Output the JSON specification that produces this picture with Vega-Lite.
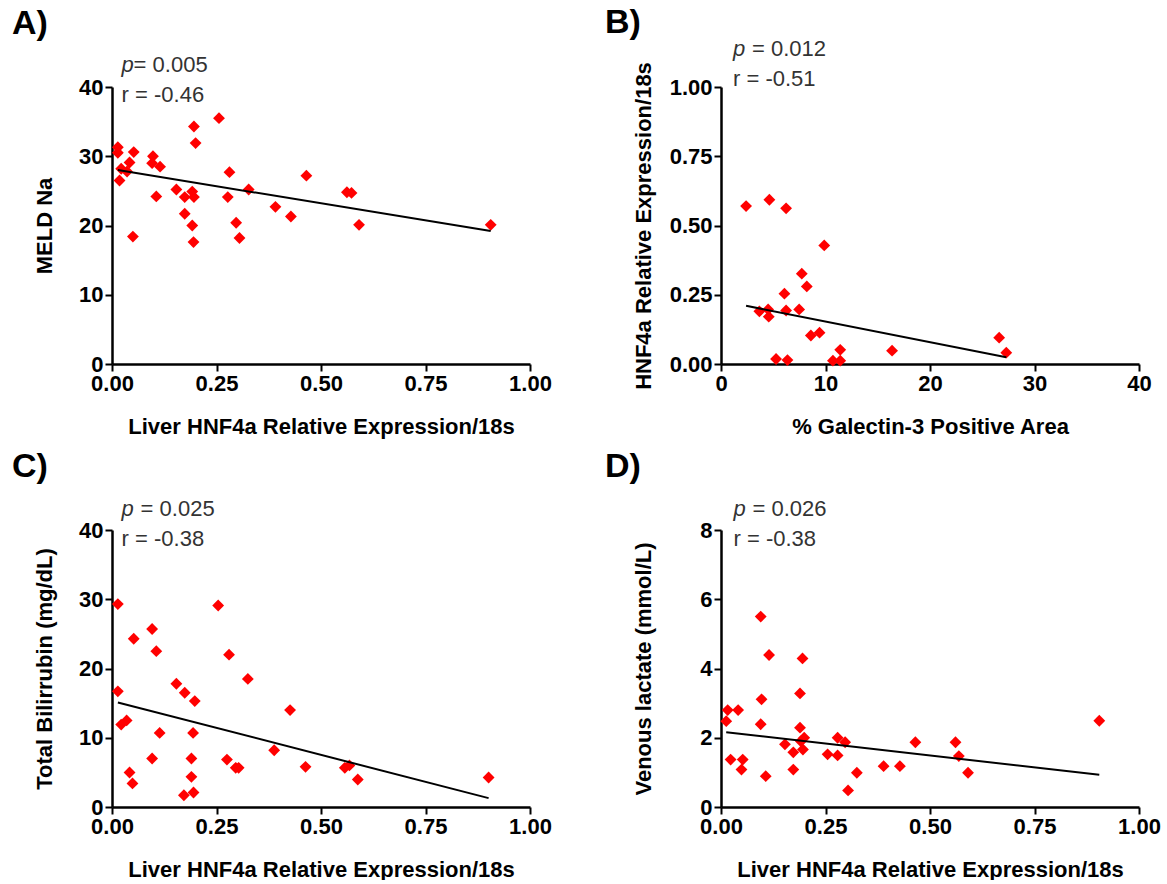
{
  "$schema": "https://vega.github.io/schema/vega-lite/v6.json",
  "background": "white",
  "padding": {"left": 12, "top": 5, "right": 5, "bottom": 0},
  "columns": 2,
  "spacing": {"row": 12, "column": 53},
  "config": {
    "view": {"stroke": null},
    "font": "Liberation Sans",
    "axis": {
      "domainColor": "black", "domainWidth": 2.5, "tickColor": "black", "tickWidth": 2, "tickSize": 7,
      "labelFont": "Liberation Sans", "labelFontWeight": "bold", "labelFontSize": 22, "labelColor": "black",
      "titleFont": "Liberation Sans", "titleFontWeight": "bold", "titleFontSize": 22, "titleColor": "black",
      "grid": false, "labelPadding": 2, "labelOverlap": false, "labelFlush": false
    },
    "axisX": {"titlePadding": 22},
    "text": {"clip": false, "fontSize": 22, "color": "#333333", "align": "left", "baseline": "middle"},
    "title": {"font": "Liberation Sans", "fontSize": 34, "fontWeight": "bold", "color": "black", "anchor": "start", "frame": "group"}
  },
  "concat": [
    {
      "width": 418, "height": 277,
      "title": {"text": "A)", "dx": -100, "offset": 13},
      "data": {"values": [
        {"x":0.014,"y":31.3},{"x":0.014,"y":30.5},{"x":0.052,"y":30.6},{"x":0.042,"y":29.1},{"x":0.022,"y":28.2},{"x":0.036,"y":27.8},{"x":0.018,"y":26.5},{"x":0.050,"y":18.4},{"x":0.098,"y":30.0},{"x":0.096,"y":29.0},{"x":0.115,"y":28.5},{"x":0.106,"y":24.2},{"x":0.196,"y":34.3},{"x":0.200,"y":31.9},{"x":0.256,"y":35.5},{"x":0.154,"y":25.2},{"x":0.174,"y":24.1},{"x":0.192,"y":24.9},{"x":0.196,"y":24.1},{"x":0.174,"y":21.7},{"x":0.192,"y":20.0},{"x":0.195,"y":17.6},{"x":0.281,"y":27.7},{"x":0.277,"y":24.1},{"x":0.327,"y":25.2},{"x":0.297,"y":20.4},{"x":0.305,"y":18.2},{"x":0.391,"y":22.7},{"x":0.428,"y":21.3},{"x":0.465,"y":27.2},{"x":0.562,"y":24.8},{"x":0.573,"y":24.7},{"x":0.591,"y":20.1},{"x":0.906,"y":20.1}
      ]},
      "layer": [
        {"mark": {"type": "point", "shape": "diamond", "filled": true, "color": "#ff0000", "opacity": 1, "size": 140},
         "encoding": {
           "x": {"field": "x", "type": "quantitative", "scale": {"domain": [0, 1], "nice": false}, "axis": {"title": "Liver HNF4a Relative Expression/18s", "values": [0, 0.25, 0.5, 0.75, 1], "format": ".2f"}},
           "y": {"field": "y", "type": "quantitative", "scale": {"domain": [0, 40], "nice": false}, "axis": {"title": "MELD Na", "values": [0, 10, 20, 30, 40], "format": "d", "titlePadding": 22}}
         }},
        {"data": {"values": [{"x": 0.014, "y": 28.0}, {"x": 0.906, "y": 19.2}]}, "mark": {"type": "line", "color": "black", "strokeWidth": 2},
         "encoding": {"x": {"field": "x", "type": "quantitative"}, "y": {"field": "y", "type": "quantitative"}}},
        {"data": {"values": [{"tx": 0.023, "ty": 43.2, "label": "p"}]},
         "mark": {"type": "text", "fontStyle": "italic"},
         "encoding": {"x": {"field": "tx", "type": "quantitative"}, "y": {"field": "ty", "type": "quantitative"}, "text": {"field": "label"}}},
        {"data": {"values": [{"tx": 0.023, "ty": 43.2, "label": "= 0.005"}]},
         "mark": {"type": "text", "dx": 12},
         "encoding": {"x": {"field": "tx", "type": "quantitative"}, "y": {"field": "ty", "type": "quantitative"}, "text": {"field": "label"}}},
        {"data": {"values": [{"tx": 0.023, "ty": 38.8, "label": "r = -0.46"}]},
         "mark": {"type": "text"},
         "encoding": {"x": {"field": "tx", "type": "quantitative"}, "y": {"field": "ty", "type": "quantitative"}, "text": {"field": "label"}}}
      ]
    },
    {
      "width": 418, "height": 277,
      "title": {"text": "B)", "dx": -116, "offset": -2},
      "data": {"values": [
        {"x":2.40,"y":0.570},{"x":4.63,"y":0.593},{"x":6.23,"y":0.562},{"x":9.88,"y":0.428},{"x":7.73,"y":0.326},{"x":8.21,"y":0.280},{"x":6.07,"y":0.254},{"x":3.67,"y":0.190},{"x":4.51,"y":0.197},{"x":4.57,"y":0.171},{"x":6.23,"y":0.193},{"x":7.48,"y":0.197},{"x":8.60,"y":0.103},{"x":9.43,"y":0.113},{"x":5.27,"y":0.018},{"x":6.36,"y":0.014},{"x":10.71,"y":0.012},{"x":11.41,"y":0.012},{"x":11.41,"y":0.051},{"x":16.37,"y":0.048},{"x":26.62,"y":0.095},{"x":27.30,"y":0.041}
      ]},
      "layer": [
        {"mark": {"type": "point", "shape": "diamond", "filled": true, "color": "#ff0000", "opacity": 1, "size": 140},
         "encoding": {
           "x": {"field": "x", "type": "quantitative", "scale": {"domain": [0, 40], "nice": false}, "axis": {"title": "% Galectin-3 Positive Area", "values": [0, 10, 20, 30, 40], "format": "d"}},
           "y": {"field": "y", "type": "quantitative", "scale": {"domain": [0, 1], "nice": false}, "axis": {"title": "HNF4a Relative Expression/18s", "values": [0, 0.25, 0.5, 0.75, 1], "format": ".2f", "titlePadding": 14}}
         }},
        {"data": {"values": [{"x": 2.40, "y": 0.210}, {"x": 27.30, "y": 0.024}]}, "mark": {"type": "line", "color": "black", "strokeWidth": 2},
         "encoding": {"x": {"field": "x", "type": "quantitative"}, "y": {"field": "y", "type": "quantitative"}}},
        {"data": {"values": [{"tx": 1.15, "ty": 1.138, "label": "p"}]},
         "mark": {"type": "text", "fontStyle": "italic"},
         "encoding": {"x": {"field": "tx", "type": "quantitative"}, "y": {"field": "ty", "type": "quantitative"}, "text": {"field": "label"}}},
        {"data": {"values": [{"tx": 1.15, "ty": 1.138, "label": "= 0.012"}]},
         "mark": {"type": "text", "dx": 19},
         "encoding": {"x": {"field": "tx", "type": "quantitative"}, "y": {"field": "ty", "type": "quantitative"}, "text": {"field": "label"}}},
        {"data": {"values": [{"tx": 1.15, "ty": 1.029, "label": "r = -0.51"}]},
         "mark": {"type": "text"},
         "encoding": {"x": {"field": "tx", "type": "quantitative"}, "y": {"field": "ty", "type": "quantitative"}, "text": {"field": "label"}}}
      ]
    },
    {
      "width": 418, "height": 277,
      "title": {"text": "C)", "dx": -100, "offset": 14},
      "data": {"values": [
        {"x":0.014,"y":29.3},{"x":0.254,"y":29.1},{"x":0.096,"y":25.7},{"x":0.052,"y":24.3},{"x":0.106,"y":22.5},{"x":0.280,"y":22.0},{"x":0.325,"y":18.5},{"x":0.154,"y":17.8},{"x":0.174,"y":16.5},{"x":0.198,"y":15.3},{"x":0.014,"y":16.7},{"x":0.426,"y":14.0},{"x":0.022,"y":11.9},{"x":0.035,"y":12.5},{"x":0.114,"y":10.7},{"x":0.194,"y":10.7},{"x":0.096,"y":7.0},{"x":0.190,"y":7.0},{"x":0.275,"y":6.85},{"x":0.296,"y":5.66},{"x":0.303,"y":5.66},{"x":0.388,"y":8.2},{"x":0.463,"y":5.8},{"x":0.557,"y":5.66},{"x":0.568,"y":6.0},{"x":0.588,"y":3.97},{"x":0.042,"y":4.98},{"x":0.049,"y":3.4},{"x":0.190,"y":4.36},{"x":0.172,"y":1.70},{"x":0.195,"y":2.09},{"x":0.901,"y":4.26}
      ]},
      "layer": [
        {"mark": {"type": "point", "shape": "diamond", "filled": true, "color": "#ff0000", "opacity": 1, "size": 140},
         "encoding": {
           "x": {"field": "x", "type": "quantitative", "scale": {"domain": [0, 1], "nice": false}, "axis": {"title": "Liver HNF4a Relative Expression/18s", "values": [0, 0.25, 0.5, 0.75, 1], "format": ".2f"}},
           "y": {"field": "y", "type": "quantitative", "scale": {"domain": [0, 40], "nice": false}, "axis": {"title": "Total Bilirrubin (mg/dL)", "values": [0, 10, 20, 30, 40], "format": "d", "titlePadding": 22}}
         }},
        {"data": {"values": [{"x": 0.014, "y": 15.1}, {"x": 0.901, "y": 1.28}]}, "mark": {"type": "line", "color": "black", "strokeWidth": 2},
         "encoding": {"x": {"field": "x", "type": "quantitative"}, "y": {"field": "y", "type": "quantitative"}}},
        {"data": {"values": [{"tx": 0.023, "ty": 43.1, "label": "p"}]},
         "mark": {"type": "text", "fontStyle": "italic"},
         "encoding": {"x": {"field": "tx", "type": "quantitative"}, "y": {"field": "ty", "type": "quantitative"}, "text": {"field": "label"}}},
        {"data": {"values": [{"tx": 0.023, "ty": 43.1, "label": "= 0.025"}]},
         "mark": {"type": "text", "dx": 19},
         "encoding": {"x": {"field": "tx", "type": "quantitative"}, "y": {"field": "ty", "type": "quantitative"}, "text": {"field": "label"}}},
        {"data": {"values": [{"tx": 0.023, "ty": 38.7, "label": "r = -0.38"}]},
         "mark": {"type": "text"},
         "encoding": {"x": {"field": "tx", "type": "quantitative"}, "y": {"field": "ty", "type": "quantitative"}, "text": {"field": "label"}}}
      ]
    },
    {
      "width": 418, "height": 277,
      "title": {"text": "D)", "dx": -116, "offset": 14},
      "data": {"values": [
        {"x":0.095,"y":5.50},{"x":0.115,"y":4.39},{"x":0.195,"y":4.29},{"x":0.189,"y":3.28},{"x":0.097,"y":3.11},{"x":0.016,"y":2.80},{"x":0.041,"y":2.80},{"x":0.0125,"y":2.48},{"x":0.095,"y":2.39},{"x":0.189,"y":2.29},{"x":0.199,"y":2.0},{"x":0.191,"y":1.90},{"x":0.196,"y":1.66},{"x":0.153,"y":1.81},{"x":0.173,"y":1.58},{"x":0.173,"y":1.08},{"x":0.023,"y":1.37},{"x":0.052,"y":1.37},{"x":0.049,"y":1.08},{"x":0.107,"y":0.89},{"x":0.255,"y":1.52},{"x":0.279,"y":2.0},{"x":0.279,"y":1.49},{"x":0.297,"y":1.87},{"x":0.325,"y":0.99},{"x":0.304,"y":0.48},{"x":0.389,"y":1.18},{"x":0.428,"y":1.18},{"x":0.465,"y":1.87},{"x":0.561,"y":1.87},{"x":0.569,"y":1.47},{"x":0.591,"y":0.99},{"x":0.905,"y":2.49}
      ]},
      "layer": [
        {"mark": {"type": "point", "shape": "diamond", "filled": true, "color": "#ff0000", "opacity": 1, "size": 140},
         "encoding": {
           "x": {"field": "x", "type": "quantitative", "scale": {"domain": [0, 1], "nice": false}, "axis": {"title": "Liver HNF4a Relative Expression/18s", "values": [0, 0.25, 0.5, 0.75, 1], "format": ".2f"}},
           "y": {"field": "y", "type": "quantitative", "scale": {"domain": [0, 8], "nice": false}, "axis": {"title": "Venous lactate (mmol/L)", "values": [0, 2, 4, 6, 8], "format": "d", "titlePadding": 44}}
         }},
        {"data": {"values": [{"x": 0.0125, "y": 2.16}, {"x": 0.905, "y": 0.93}]}, "mark": {"type": "line", "color": "black", "strokeWidth": 2},
         "encoding": {"x": {"field": "x", "type": "quantitative"}, "y": {"field": "y", "type": "quantitative"}}},
        {"data": {"values": [{"tx": 0.03, "ty": 8.62, "label": "p"}]},
         "mark": {"type": "text", "fontStyle": "italic"},
         "encoding": {"x": {"field": "tx", "type": "quantitative"}, "y": {"field": "ty", "type": "quantitative"}, "text": {"field": "label"}}},
        {"data": {"values": [{"tx": 0.03, "ty": 8.62, "label": "= 0.026"}]},
         "mark": {"type": "text", "dx": 19},
         "encoding": {"x": {"field": "tx", "type": "quantitative"}, "y": {"field": "ty", "type": "quantitative"}, "text": {"field": "label"}}},
        {"data": {"values": [{"tx": 0.03, "ty": 7.75, "label": "r = -0.38"}]},
         "mark": {"type": "text"},
         "encoding": {"x": {"field": "tx", "type": "quantitative"}, "y": {"field": "ty", "type": "quantitative"}, "text": {"field": "label"}}}
      ]
    }
  ]
}
